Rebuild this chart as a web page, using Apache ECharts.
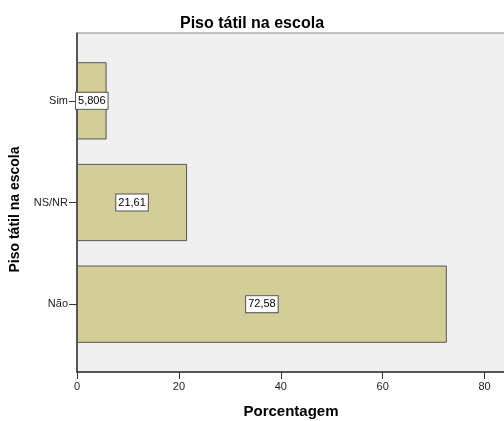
<!DOCTYPE html>
<html><head><meta charset="utf-8">
<script src="https://cdn.jsdelivr.net/npm/echarts@6/dist/echarts.min.js"></script>
<style>html,body{margin:0;padding:0;background:#fff}#c{width:504px;height:421px}</style>
</head><body><div id="c"></div>
<script>
const categories = ['Sim', 'NS/NR', 'Não'];
const values = [5.806, 21.61, 72.58];
const valueLabels = ['5,806', '21,61', '72,58'];
const xTicks = [0, 20, 40, 60, 80];

const font = '"Liberation Sans", Arial, sans-serif';
const chart = echarts.init(document.getElementById('c'), null, {renderer: 'canvas'});
chart.setOption({
  animation: false,
  title: {text: 'Piso tátil na escola', left: 'center', top: 11,
    textStyle: {fontFamily: font, fontSize: 16, fontWeight: 'bold', color: '#000'}},
  grid: [
    {left: 77, right: -1, top: 33, bottom: 49, show: true, backgroundColor: '#f0f0f0', borderColor: '#8a8a8a', borderWidth: 1, containLabel: false, outerBoundsMode: 'none'},
    {left: 77, right: -1, top: 50, bottom: 66, containLabel: false, outerBoundsMode: 'none'}
  ],
  xAxis: [
    {gridIndex: 0, type: 'value', min: 0, max: 84, interval: 20,
      name: 'Porcentagem', nameLocation: 'middle', nameGap: 32,
      nameTextStyle: {fontFamily: font, fontSize: 15, fontWeight: 'bold', color: '#000'},
      axisLine: {show: true, lineStyle: {color: '#333', width: 1.5}},
      axisTick: {show: true, length: 7, lineStyle: {color: '#333'}},
      splitLine: {show: false},
      axisLabel: {fontFamily: font, fontSize: 11, color: '#222', showMaxLabel: false, margin: 9,
        formatter: v => xTicks.includes(v) ? String(v) : ''}},
    {gridIndex: 1, type: 'value', min: 0, max: 84, show: false}
  ],
  yAxis: [
    {gridIndex: 0, type: 'value', min: 0, max: 1,
      name: 'Piso tátil na escola', nameLocation: 'middle', nameGap: 55, nameRotate: 90,
      nameTextStyle: {fontFamily: font, fontSize: 14, fontWeight: 'bold', color: '#000', padding: [0, 14, 0, 0]},
      axisLine: {show: true, lineStyle: {color: '#333', width: 1.5}},
      axisTick: {show: false}, axisLabel: {show: false}, splitLine: {show: false}},
    {gridIndex: 1, type: 'category', data: categories, inverse: true,
      axisLine: {show: false},
      axisTick: {show: true, length: 8, alignWithLabel: true, lineStyle: {color: '#333'}},
      axisLabel: {fontFamily: font, fontSize: 11, color: '#222', margin: 9}}
  ],
  series: [{
    type: 'bar', xAxisIndex: 1, yAxisIndex: 1, data: values,
    barCategoryGap: '24%',
    itemStyle: {color: '#d3ce97', borderColor: '#555', borderWidth: 1},
    label: {show: true, position: 'inside', fontFamily: font, fontSize: 11, color: '#000',
      backgroundColor: '#fff', borderColor: '#555', borderWidth: 1, padding: [3, 2, 2, 2],
      formatter: p => valueLabels[p.dataIndex]}
  }]
});
</script></body></html>
